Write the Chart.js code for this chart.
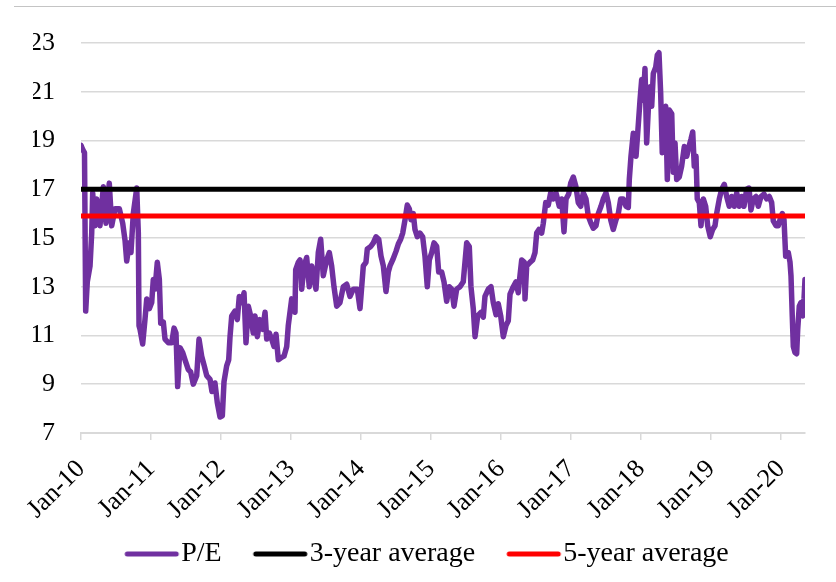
<!DOCTYPE html>
<html>
<head>
<meta charset="utf-8">
<script src="https://cdn.jsdelivr.net/npm/chart.js@4.4.1/dist/chart.umd.min.js"></script>
<style>
  html, body { margin: 0; padding: 0; background: #fff; }
  #wrap { position: relative; width: 836px; height: 582px; }
  #topline { position: absolute; top: 6px; left: 14px; right: 0; border-top: 1.5px solid #c4c4c4; }
  canvas { position: absolute; left: 0; top: 0; }
</style>
</head>
<body>
<div id="wrap">
  <div id="topline"></div>
  <canvas id="c" width="836" height="582"></canvas>
</div>
<script>
// x tick labels (one per January, years since Jan 2010)
const xTickValues = [0,1,2,3,4,5,6,7,8,9,10];
const xTickLabels = ['Jan-10','Jan-11','Jan-12','Jan-13','Jan-14','Jan-15','Jan-16','Jan-17','Jan-18','Jan-19','Jan-20'];
const yTickValues = [7,9,11,13,15,17,19,21,23];

// P/E series: time in years since Jan 2010, value
const peT = [0.000,0.029,0.050,0.067,0.090,0.129,0.153,0.167,0.200,0.224,0.271,0.319,0.357,0.404,0.439,0.486,0.547,0.596,0.629,0.653,0.690,0.714,0.747,0.796,0.819,0.829,0.843,0.881,0.914,0.939,0.976,
1.010,1.033,1.057,1.090,1.119,1.139,1.176,1.200,1.247,1.296,1.329,1.357,1.381,1.414,1.453,1.486,1.533,1.567,1.604,1.653,1.686,1.724,1.761,1.796,1.843,1.871,1.914,1.947,1.986,
2.019,2.043,2.081,2.110,2.129,2.153,2.200,2.233,2.261,2.296,2.329,2.357,2.390,2.424,2.461,2.486,2.519,2.557,2.596,2.629,2.653,2.690,2.724,2.757,2.786,2.819,2.867,2.900,2.939,2.961,
3.010,3.057,3.067,3.104,3.129,3.153,3.186,3.224,3.261,3.296,3.357,3.390,3.424,3.461,3.510,3.547,3.581,3.614,3.653,3.700,3.747,3.796,3.843,3.890,3.947,3.986,
4.033,4.071,4.090,4.139,4.176,4.214,4.253,4.286,4.319,4.357,4.390,4.414,4.453,4.500,4.533,4.567,4.596,4.629,4.661,4.690,4.714,4.747,4.771,4.804,4.843,4.881,4.914,4.947,4.976,
5.010,5.043,5.081,5.110,5.153,5.186,5.224,5.261,5.296,5.329,5.367,5.414,5.461,5.510,5.547,5.571,5.604,5.629,5.667,5.714,5.747,5.771,5.819,5.857,5.890,5.929,5.961,5.996,
6.033,6.071,6.104,6.129,6.176,6.214,6.247,6.271,6.296,6.333,6.343,6.367,6.414,6.453,6.486,6.510,6.543,6.581,6.604,6.639,6.676,6.710,6.747,6.786,6.833,6.867,6.900,6.929,6.967,6.996,
7.033,7.071,7.104,7.139,7.176,7.214,7.247,7.286,7.319,7.357,7.390,7.429,7.461,7.500,7.533,7.567,7.604,7.643,7.676,7.710,7.747,7.786,7.819,7.833,7.857,7.890,7.929,7.953,7.986,
8.010,8.033,8.057,8.081,8.104,8.129,8.153,8.176,8.210,8.233,8.257,8.281,8.304,8.329,8.353,8.376,8.404,8.439,8.461,8.486,8.510,8.547,8.581,8.619,8.653,8.686,8.714,8.739,8.761,8.786,8.804,8.833,8.857,8.890,8.924,8.953,8.990,
9.024,9.057,9.081,9.119,9.153,9.190,9.224,9.261,9.296,9.333,9.367,9.404,9.439,9.471,9.510,9.543,9.571,9.604,9.643,9.676,9.714,9.757,9.796,9.833,9.867,9.890,9.929,9.961,9.986,
10.019,10.043,10.067,10.104,10.129,10.143,10.161,10.176,10.200,10.224,10.239,10.261,10.286,10.310,10.329,10.343];
const peValues = [18.8,18.6,18.5,12.0,13.2,13.85,15.2,16.85,15.5,16.6,15.5,17.1,15.6,17.25,15.5,16.2,16.2,15.6,14.9,14.05,14.8,14.4,16.0,17.05,15.2,11.4,11.25,10.65,11.65,12.5,12.1,
12.35,13.3,12.9,14.0,13.3,11.5,11.55,10.85,10.7,10.7,11.3,11.1,8.9,10.5,10.3,10.0,9.6,9.5,9.0,9.35,10.85,10.15,9.75,9.35,9.2,8.7,9.05,8.25,7.65,
7.7,9.1,9.75,10.0,10.95,11.8,12.0,11.65,12.6,12.35,12.75,10.7,12.2,11.8,11.1,11.8,10.95,11.65,11.25,11.95,10.85,11.1,10.85,10.55,11.05,10.0,10.1,10.15,10.55,11.4,
12.5,11.95,13.7,14.0,14.1,12.9,13.85,14.2,13.0,13.85,12.9,14.4,14.95,13.45,14.1,14.4,13.85,13.0,12.2,12.35,13.0,13.1,12.6,12.9,12.9,12.1,
13.85,14.0,14.55,14.65,14.8,15.05,14.95,14.25,13.85,12.8,13.6,13.85,14.1,14.45,14.75,14.95,15.2,15.75,16.35,16.2,15.75,16.0,15.35,15.05,15.2,15.05,14.25,13.0,14.1,
14.4,14.8,14.65,13.6,13.6,13.2,12.4,13.0,12.9,12.2,12.9,13.0,13.2,14.8,14.65,13.0,12.1,10.95,11.8,11.95,11.75,12.6,12.9,13.0,12.35,11.85,12.3,11.8,
10.95,11.4,11.6,12.7,13.0,13.2,12.75,13.45,14.1,14.0,12.5,13.85,14.0,14.1,14.4,15.2,15.35,15.2,15.6,16.45,16.35,16.85,16.6,16.85,16.3,16.6,15.25,16.6,16.8,17.25,
17.5,17.1,16.45,16.3,16.85,16.6,15.9,15.6,15.4,15.5,16.0,16.3,16.6,16.85,16.45,15.75,15.35,15.75,16.0,16.6,16.6,16.3,16.25,17.4,18.35,19.3,18.35,19.3,20.65,
21.5,20.65,21.95,18.9,20.25,21.2,20.4,21.75,22.0,22.5,22.6,20.95,18.5,20.25,20.4,17.4,20.25,20.1,17.7,18.9,17.4,17.5,17.95,18.75,18.35,18.75,19.05,19.35,17.95,18.35,16.6,16.45,15.5,16.6,16.3,15.5,15.05,
15.35,15.5,16.0,16.6,17.0,17.2,16.7,16.3,16.7,16.3,16.85,16.3,16.7,16.3,17.0,17.05,16.15,16.6,16.7,16.3,16.7,16.8,16.6,16.7,16.45,15.7,15.5,15.5,15.75,
16.0,15.75,14.25,14.4,14.0,13.45,11.8,10.55,10.3,10.25,11.25,12.2,12.35,11.8,12.5,13.3];

const avg3Year = 17.0;
const avg5Year = 15.9;

const seriesLabels = ['P/E', '3-year average', '5-year average'];
const seriesColors = ['#7030A0', '#000000', '#FF0000'];

const tEnd = peT[peT.length - 1];
const pePoints = peT.map((t, i) => ({ x: t, y: peValues[i] }));

const FONT = "'Liberation Serif', 'Times New Roman', serif";
Chart.defaults.font.family = FONT;
Chart.defaults.color = '#000';

// legend swatches: a short thick line with a transparent lead-in on the left
function swatch(color) {
  const c = document.createElement('canvas');
  c.width = 84; c.height = 10;
  const g = c.getContext('2d');
  g.strokeStyle = color; g.lineWidth = 5; g.lineCap = 'round';
  g.beginPath(); g.moveTo(31, 5); g.lineTo(80, 5); g.stroke();
  return c;
}
const swatches = seriesColors.map(swatch);

const chart = new Chart(document.getElementById('c'), {
  type: 'line',
  data: {
    datasets: [
      { label: seriesLabels[0], data: pePoints, borderColor: seriesColors[0], backgroundColor: seriesColors[0],
        borderWidth: 5.5, pointRadius: 0, tension: 0, borderJoinStyle: 'round', borderCapStyle: 'round', order: 3 },
      { label: seriesLabels[1], data: [{x: 0, y: avg3Year}, {x: tEnd, y: avg3Year}], borderColor: seriesColors[1], backgroundColor: seriesColors[1],
        borderWidth: 5, pointRadius: 0, borderCapStyle: 'round', order: 2 },
      { label: seriesLabels[2], data: [{x: 0, y: avg5Year}, {x: tEnd, y: avg5Year}], borderColor: seriesColors[2], backgroundColor: seriesColors[2],
        borderWidth: 5, pointRadius: 0, borderCapStyle: 'round', order: 1 }
    ]
  },
  options: {
    responsive: false,
    animation: false,
    devicePixelRatio: 1,
    layout: { padding: { left: 33, right: 31, top: 43, bottom: 4 } },
    plugins: {
      tooltip: { enabled: false },
      legend: {
        position: 'bottom',
        labels: {
          usePointStyle: true,
          pointStyleWidth: 58,
          boxHeight: 20,
          padding: 16,
          color: '#000',
          font: { family: FONT, size: 28 },
          sort: (a, b) => a.datasetIndex - b.datasetIndex,
          generateLabels: (ch) => {
            const items = Chart.defaults.plugins.legend.labels.generateLabels(ch);
            items.forEach(it => { it.pointStyle = swatches[it.datasetIndex]; });
            return items;
          }
        }
      }
    },
    scales: {
      x: {
        type: 'linear',
        min: 0,
        max: tEnd,
        afterBuildTicks: (scale) => { scale.ticks = xTickValues.map(v => ({ value: v })); },
        afterFit: (scale) => { scale.height -= 15; },
        grid: { drawOnChartArea: false, drawTicks: true, tickLength: 7, color: '#d9d9d9', lineWidth: 1.5 },
        border: { display: true, color: '#d9d9d9', width: 2 },
        ticks: {
          autoSkip: false,
          maxRotation: 45,
          minRotation: 45,
          padding: 14,
          color: '#000',
          font: { family: FONT, size: 26 },
          callback: (v) => { const i = xTickValues.indexOf(v); return i >= 0 ? xTickLabels[i] : ''; }
        }
      },
      y: {
        min: 7,
        max: 23,
        afterBuildTicks: (scale) => { scale.ticks = yTickValues.map(v => ({ value: v })); },
        afterFit: (scale) => { scale.width = 48; },
        grid: { drawTicks: false, color: '#d9d9d9', lineWidth: 1.5 },
        border: { display: false },
        ticks: { padding: 26, color: '#000', font: { family: FONT, size: 26 } }
      }
    }
  }
});
</script>
</body>
</html>
